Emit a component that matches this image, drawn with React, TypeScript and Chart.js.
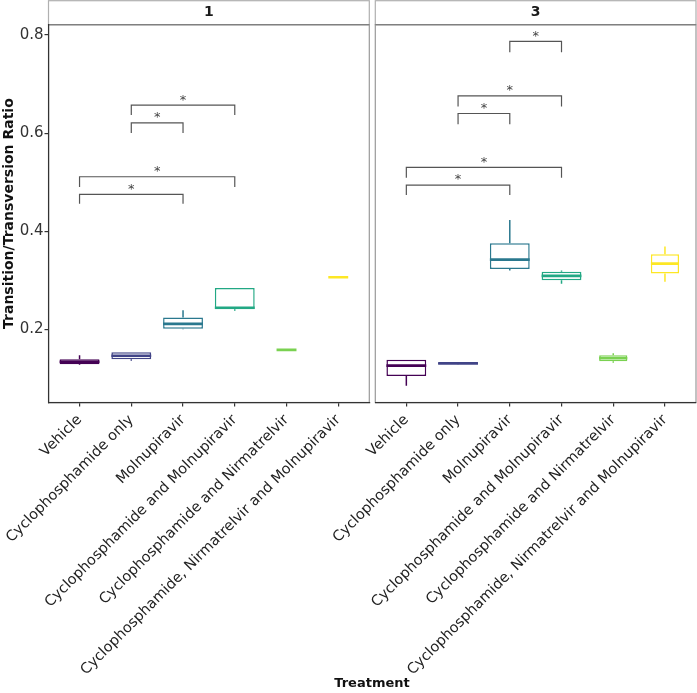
import React, { useEffect, useRef } from "react";
import { Chart, registerables } from "chart.js";

Chart.register(...registerables);
Chart.defaults.font.family = '"DejaVu Sans", sans-serif';

// ---------------- data ----------------
const categories = [
  "Vehicle",
  "Cyclophosphamide only",
  "Molnupiravir",
  "Cyclophosphamide and Molnupiravir",
  "Cyclophosphamide and Nirmatrelvir",
  "Cyclophosphamide, Nirmatrelvir and Molnupiravir",
];
const colors = ["#440154", "#414487", "#2A788E", "#22A884", "#7AD151", "#FDE725"];
const panelLabels = ["1", "3"];
const yTicks = [0.2, 0.4, 0.6, 0.8];

// panel "1"
const p1Min = [0.127, 0.136, 0.2, 0.238, 0.158, 0.306];
const p1Q1 = [0.129, 0.139, 0.201, 0.241, 0.158, 0.306];
const p1Median = [0.134, 0.146, 0.211, 0.244, 0.158, 0.306];
const p1Q3 = [0.139, 0.153, 0.224, 0.284, 0.158, 0.306];
const p1Max = [0.147, 0.153, 0.239, 0.284, 0.158, 0.306];
const p1N = [4, 4, 4, 4, 1, 1];
const p1BracketFrom = [1, 1, 0, 0];
const p1BracketTo = [3, 2, 3, 2];
const p1BracketY = [0.657, 0.621, 0.511, 0.475];
const p1BracketTip = [0.637, 0.6, 0.49, 0.456];
const p1BracketLabel = ["*", "*", "*", "*"];

// panel "3"
const p3Min = [0.085, 0.129, 0.32, 0.293, 0.132, 0.297];
const p3Q1 = [0.105, 0.1295, 0.323, 0.3, 0.135, 0.314];
const p3Median = [0.126, 0.1306, 0.342, 0.309, 0.141, 0.334];
const p3Q3 = [0.138, 0.1318, 0.3755, 0.3176, 0.147, 0.353];
const p3Max = [0.138, 0.132, 0.423, 0.32, 0.151, 0.369];
const p3N = [4, 4, 4, 4, 2, 2];
const p3BracketFrom = [2, 1, 1, 0, 0];
const p3BracketTo = [3, 3, 2, 3, 2];
const p3BracketY = [0.787, 0.676, 0.64, 0.53, 0.494];
const p3BracketTip = [0.765, 0.654, 0.618, 0.509, 0.474];
const p3BracketLabel = ["*", "*", "*", "*", "*"];

const Y_MIN = 0.0508;
const Y_MAX = 0.821;
const X_MIN = -0.6;
const X_MAX = 5.6;
const BOX_WIDTH = 0.77;

const W = 697;
const H = 693;
const AREA_BOTTOM = 402.5;

type Panel = {
  label: string;
  min: number[];
  q1: number[];
  median: number[];
  q3: number[];
  max: number[];
  n: number[];
  bFrom: number[];
  bTo: number[];
  bY: number[];
  bTip: number[];
  bLabel: string[];
};

const panels: Panel[] = [
  {
    label: panelLabels[0], min: p1Min, q1: p1Q1, median: p1Median, q3: p1Q3, max: p1Max, n: p1N,
    bFrom: p1BracketFrom, bTo: p1BracketTo, bY: p1BracketY, bTip: p1BracketTip, bLabel: p1BracketLabel,
  },
  {
    label: panelLabels[1], min: p3Min, q1: p3Q1, median: p3Median, q3: p3Q3, max: p3Max, n: p3N,
    bFrom: p3BracketFrom, bTo: p3BracketTo, bY: p3BracketY, bTip: p3BracketTip, bLabel: p3BracketLabel,
  },
];

const facetPlugin = {
  id: "facet",
  beforeDraw(chart: any, _args: any, opts: any) {
    const { ctx, chartArea: a } = chart;
    const w = a.right - a.left;
    ctx.save();
    // strip
    ctx.fillStyle = "#ffffff";
    ctx.fillRect(a.left, a.top - 24, w, 24);
    ctx.strokeStyle = "#b0b0b0";
    ctx.lineWidth = 1.2;
    ctx.strokeRect(a.left, a.top - 24, w, 24);
    // panel border
    ctx.strokeStyle = "#9a9a9a";
    ctx.strokeRect(a.left, a.top, w, a.bottom - a.top);
    ctx.beginPath();
    ctx.strokeStyle = "#808080";
    ctx.moveTo(a.left, a.top);
    ctx.lineTo(a.right, a.top);
    ctx.stroke();
    // strip text
    ctx.fillStyle = "#1a1a1a";
    ctx.font = 'bold 14px "DejaVu Sans", sans-serif';
    ctx.textAlign = "center";
    ctx.textBaseline = "middle";
    ctx.fillText(opts.label, (a.left + a.right) / 2, a.top - 12);
    ctx.restore();
  },
  afterDatasetsDraw(chart: any, _args: any, opts: any) {
    const { ctx } = chart;
    const xs = chart.scales.x;
    const ys = chart.scales.y;
    const p: Panel = opts.panel;
    ctx.save();
    ctx.fillStyle = "#444444";
    ctx.font = '13px "DejaVu Sans", sans-serif';
    ctx.textAlign = "center";
    ctx.textBaseline = "middle";
    p.bLabel.forEach((lab, k) => {
      const x = xs.getPixelForValue((p.bFrom[k] + p.bTo[k]) / 2);
      const y = ys.getPixelForValue(p.bY[k]) - 5;
      ctx.fillText(lab, x, y);
    });
    ctx.restore();
  },
};

function makeConfig(p: Panel, showY: boolean, pad: any): any {
  const idx = categories.map((_, i) => i);
  const boxW = (i: number) => BOX_WIDTH * Math.sqrt(p.n[i] / 4);

  const medianSets = idx.map((i) => ({
    type: "line",
    data: [
      { x: i - boxW(i) / 2, y: p.median[i] },
      { x: i + boxW(i) / 2, y: p.median[i] },
    ],
    borderColor: colors[i],
    borderWidth: 2.6,
    borderCapStyle: "butt",
    pointRadius: 0,
    order: 0,
  }));
  const whiskerSets = idx.map((i) => ({
    type: "line",
    data: [
      { x: i, y: p.q3[i] },
      { x: i, y: p.max[i] },
      { x: i, y: null },
      { x: i, y: p.q1[i] },
      { x: i, y: p.min[i] },
    ],
    borderColor: colors[i],
    borderWidth: 1.5,
    pointRadius: 0,
    spanGaps: false,
    order: 1,
  }));
  const boxSets = idx.map((i) => ({
    type: "bar",
    data: [{ x: i, y: [p.q1[i], p.q3[i]] }],
    backgroundColor: "#ffffff",
    borderColor: colors[i],
    borderWidth: 1.5,
    borderSkipped: false,
    grouped: false,
    barPercentage: boxW(i),
    categoryPercentage: 1,
    order: 2,
  }));
  const bracketData: any[] = [];
  p.bFrom.forEach((f, k) => {
    const t = p.bTo[k];
    bracketData.push(
      { x: f, y: p.bTip[k] },
      { x: f, y: p.bY[k] },
      { x: t, y: p.bY[k] },
      { x: t, y: p.bTip[k] },
      { x: t, y: null }
    );
  });
  const bracketSet = {
    type: "line",
    data: bracketData,
    borderColor: "#555555",
    borderWidth: 1.2,
    pointRadius: 0,
    spanGaps: false,
    order: 0,
  };

  return {
    type: "bar",
    data: { datasets: [...medianSets, ...whiskerSets, ...boxSets, bracketSet] },
    options: {
      responsive: false,
      animation: false,
      layout: { padding: pad },
      plugins: {
        legend: { display: false },
        tooltip: { enabled: false },
        facet: { label: p.label, panel: p },
      },
      scales: {
        x: {
          type: "linear",
          min: X_MIN,
          max: X_MAX,
          offset: false,
          bounds: "data",
          afterBuildTicks: (s: any) => {
            s.ticks = idx.map((v) => ({ value: v }));
          },
          afterFit: (s: any) => {
            s.height = H - AREA_BOTTOM;
            s.paddingLeft = 0;
            s.paddingRight = 0;
            s.paddingTop = 0;
            s.paddingBottom = 0;
          },
          ticks: {
            display: true,
            autoSkip: false,
            minRotation: 45,
            maxRotation: 45,
            padding: 5,
            color: "#222222",
            font: { size: 14.5 },
            callback: (v: number) => categories[Math.round(v)],
          },
          grid: {
            display: true,
            offset: false,
            drawOnChartArea: false,
            drawTicks: true,
            tickLength: 4,
            color: "#333333",
            lineWidth: 1.2,
          },
          border: { display: true, color: "#333333", width: 1.2 },
        },
        y: {
          type: "linear",
          display: showY,
          min: Y_MIN,
          max: Y_MAX,
          bounds: "data",
          afterBuildTicks: (s: any) => {
            s.ticks = yTicks.map((v) => ({ value: v }));
          },
          afterFit: (s: any) => {
            s.width = showY ? 48.5 : 0;
            s.paddingTop = 0;
            s.paddingBottom = 0;
            s.paddingLeft = 0;
            s.paddingRight = 0;
          },
          ticks: {
            padding: 1,
            color: "#333333",
            font: { size: 15 },
            callback: (v: number) => v.toFixed(1),
          },
          grid: {
            display: true,
            drawOnChartArea: false,
            drawTicks: true,
            tickLength: 4,
            color: "#333333",
            lineWidth: 1.2,
          },
          border: { display: true, color: "#333333", width: 1.2 },
          title: {
            display: true,
            text: "Transition/Transversion Ratio",
            color: "#111111",
            font: { size: 14, weight: "bold" },
            padding: { top: 1, bottom: 0 },
          },
        },
      },
    },
    plugins: [facetPlugin],
  };
}

function PanelChart({ p, showY, pad }: { p: Panel; showY: boolean; pad: any }) {
  const ref = useRef<HTMLCanvasElement | null>(null);
  useEffect(() => {
    if (!ref.current) return;
    const chart = new Chart(ref.current, makeConfig(p, showY, pad));
    return () => chart.destroy();
  }, []);
  return (
    <canvas
      ref={ref}
      width={W}
      height={H}
      style={{ position: "absolute", left: 0, top: 0, width: W, height: H }}
    />
  );
}

export default function App() {
  return (
    <div
      style={{
        position: "fixed",
        left: 0,
        top: 0,
        width: W,
        height: H,
        background: "#ffffff",
        overflow: "hidden",
      }}
    >
      <PanelChart
        p={panels[0]}
        showY={true}
        pad={{ left: 0, right: W - 369.3, top: 24.7, bottom: 0 }}
      />
      <PanelChart
        p={panels[1]}
        showY={false}
        pad={{ left: 375.3, right: W - 696, top: 24.7, bottom: 0 }}
      />
      <div
        style={{
          position: "absolute",
          left: 0,
          width: 744,
          top: 674,
          textAlign: "center",
          fontFamily: '"DejaVu Sans", sans-serif',
          fontWeight: "bold",
          fontSize: 13,
          lineHeight: "18px",
          color: "#111111",
        }}
      >
        Treatment
      </div>
    </div>
  );
}
